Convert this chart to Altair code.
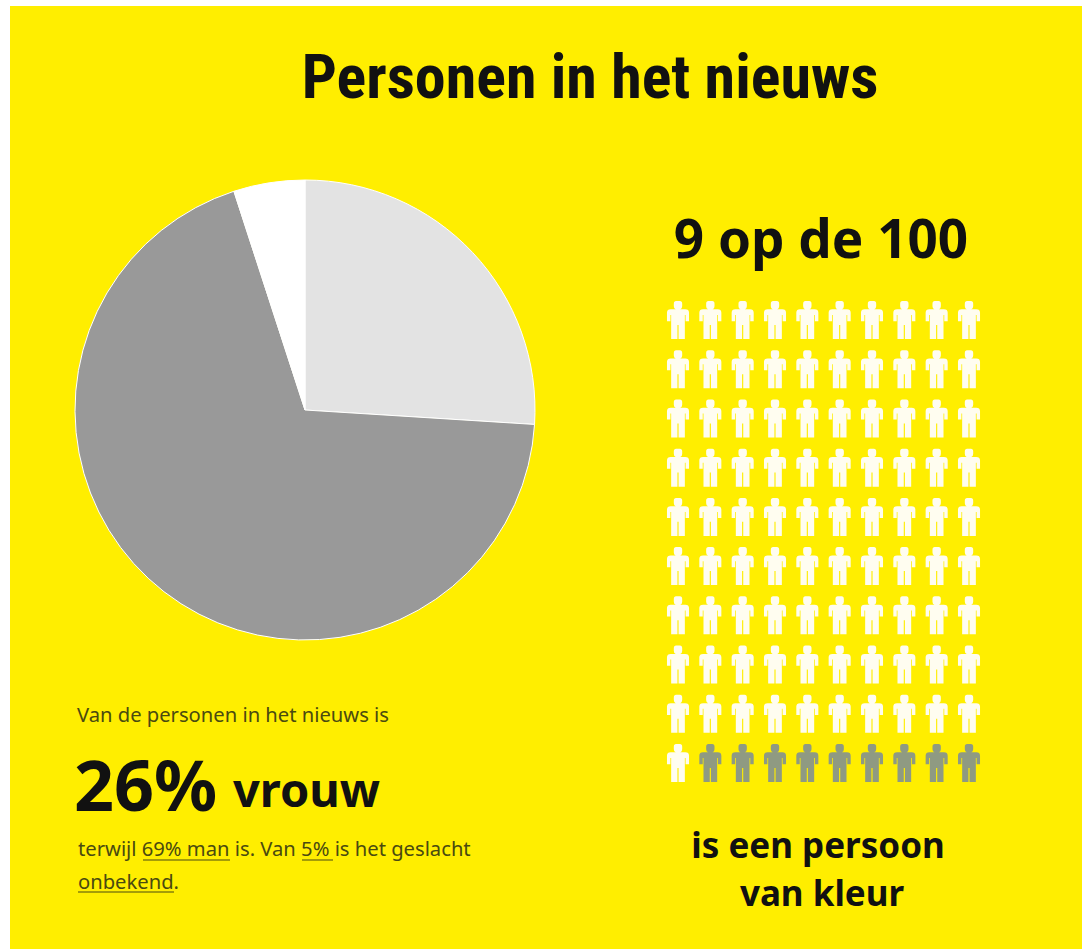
import altair as alt
import pandas as pd

# Gender share of people in the news (percent)
gender_labels = ["vrouw", "man", "onbekend"]
gender_shares = [26, 69, 5]
gender_colors = ["#e3e3e3", "#999999", "#ffffff"]

# 100 people in a 10 x 10 grid, 9 of whom are people of colour
grid_columns = 10
grid_rows = 10
people_of_colour = 9

YELLOW = "#ffee00"
INK = "#111111"
TEXT = "#4a4a10"
BODY_FONT = "Noto Sans"
TITLE_FONT = "Roboto Condensed, Roboto"

# Person pictogram, in the [-1, 1] box of a custom symbol
PERSON = (
    "M-0.10,-1 H0.10 Q0.22,-1 0.22,-0.86 V-0.72 Q0.22,-0.6 0.12,-0.56 H0.38 "
    "Q0.58,-0.56 0.58,-0.38 V0.06 H0.40 V-0.26 H0.36 V1 H0.03 V0.26 H-0.03 V1 H-0.36 "
    "V-0.26 H-0.40 V0.06 H-0.58 V-0.38 Q-0.58,-0.56 -0.38,-0.56 H-0.12 "
    "Q-0.22,-0.6 -0.22,-0.72 V-0.86 Q-0.22,-1 -0.10,-1 Z"
)

W, H = 1082, 949

panel = alt.Chart(pd.DataFrame({"p": ["panel"]})).mark_rect(color=YELLOW).encode(
    x=alt.value(10), x2=alt.value(W), y=alt.value(6), y2=alt.value(H)
)

pie_data = pd.DataFrame(
    {"label": gender_labels, "share": gender_shares, "rank": list(range(len(gender_labels)))}
)
pie = (
    alt.Chart(pie_data)
    .mark_arc(radius=230, stroke="#ffffff", strokeWidth=1)
    .encode(
        theta=alt.Theta("share:Q", stack=True),
        order=alt.Order("rank:O"),
        color=alt.Color(
            "label:N",
            scale=alt.Scale(domain=gender_labels, range=gender_colors),
            legend=None,
        ),
        x=alt.value(305),
        y=alt.value(410),
    )
)

cells = []
for row in range(grid_rows):
    for col in range(grid_columns):
        index = row * grid_columns + col
        coloured = index >= grid_columns * grid_rows - people_of_colour
        cells.append({"col": col, "row": row, "group": "kleur" if coloured else "overig"})
people = (
    alt.Chart(pd.DataFrame(cells))
    .mark_point(shape=PERSON, size=1444, filled=True, opacity=1, strokeWidth=0)
    .encode(
        x=alt.X("col:Q", axis=None, scale=alt.Scale(domain=[0, 9], range=[678, 969])),
        y=alt.Y("row:Q", axis=None, scale=alt.Scale(domain=[0, 9], range=[320, 763])),
        fill=alt.Fill(
            "group:N",
            legend=None,
            scale=alt.Scale(domain=["overig", "kleur"], range=["#fffdf0", "#8f9a82"]),
        ),
    )
)


def label(text, x, y, size, font=BODY_FONT, weight="normal", color=TEXT, align="left"):
    """A single line of copy placed on the page."""
    return (
        alt.Chart(pd.DataFrame({"t": [text]}))
        .mark_text(font=font, fontSize=size, fontWeight=weight, color=color, align=align, baseline="alphabetic")
        .encode(text="t:N", x=alt.value(x), y=alt.value(y))
    )


def underline(x1, x2, y):
    return (
        alt.Chart(pd.DataFrame({"u": [0]}))
        .mark_rule(color=TEXT, strokeWidth=1)
        .encode(x=alt.value(x1), x2=alt.value(x2), y=alt.value(y))
    )


texts = [
    label("Personen in het nieuws", 590, 98, 62, TITLE_FONT, "bold", INK, "center"),
    label("9 op de 100", 821, 258, 53, BODY_FONT, "bold", INK, "center"),
    label("is een persoon", 818, 858, 35, BODY_FONT, "bold", INK, "center"),
    label("van kleur", 822, 906, 35, BODY_FONT, "bold", INK, "center"),
    label("Van de personen in het nieuws is", 77, 722, 20.2),
    label("26%", 74, 811, 70, BODY_FONT, "bold", INK),
    label("vrouw", 233, 807, 47, BODY_FONT, "bold", INK),
    label("terwijl 69% man is. Van 5% is het geslacht", 78, 856, 20.2),
    label("onbekend.", 78, 889, 20.2),
    underline(143, 230, 860),
    underline(302, 333, 860),
    underline(78, 174, 892),
]

chart = (
    alt.layer(panel, pie, people, *texts)
    .resolve_scale(color="independent", fill="independent", x="independent", y="independent")
    .properties(width=W, height=H, padding=0, background="#ffffff", autosize=alt.AutoSizeParams(type="none"))
    .configure_view(stroke=None)
)

chart.save("out.html", embed_options={"renderer": "svg", "actions": False})
